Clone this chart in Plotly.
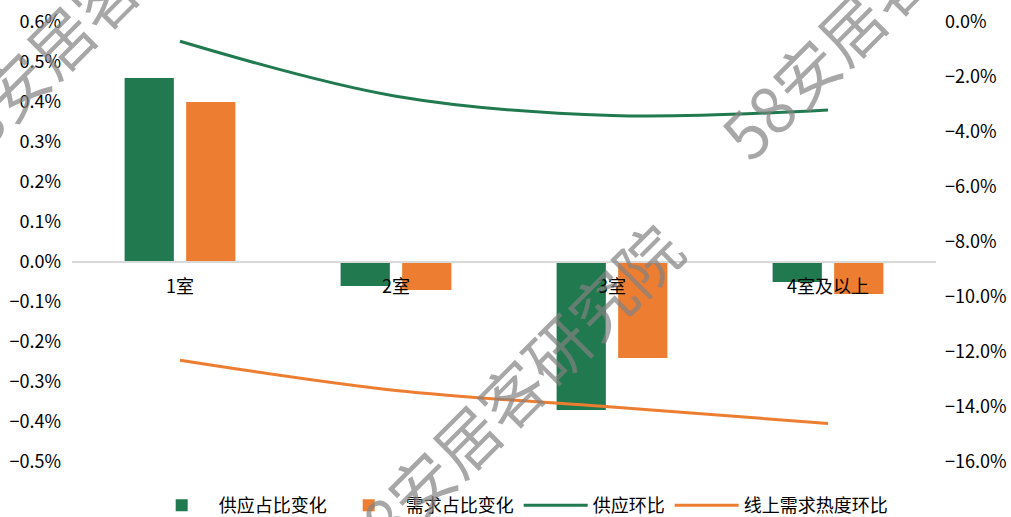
import plotly.graph_objects as go

categories = ["1室", "2室", "3室", "4室及以上"]
supply_share_change = [0.46, -0.06, -0.37, -0.05]
demand_share_change = [0.40, -0.07, -0.24, -0.08]
supply_mom = [-0.7, -2.7, -3.4, -3.2]
demand_heat_mom = [-12.3, -13.4, -14.0, -14.6]

GREEN = "#217A4F"
ORANGE = "#ED7D31"
FONT = "Noto Sans CJK SC"

fig = go.Figure()
fig.add_trace(go.Bar(x=categories, y=supply_share_change, name="供应占比变化",
                     marker=dict(color=GREEN, line=dict(width=0))))
fig.add_trace(go.Bar(x=categories, y=demand_share_change, name="需求占比变化",
                     marker=dict(color=ORANGE, line=dict(width=0))))
fig.add_trace(go.Scatter(x=categories, y=supply_mom, name="供应环比", yaxis="y2",
                         mode="lines", line=dict(color=GREEN, width=3, shape="spline", smoothing=1)))
fig.add_trace(go.Scatter(x=categories, y=demand_heat_mom, name="线上需求热度环比", yaxis="y2",
                         mode="lines", line=dict(color=ORANGE, width=3, shape="spline", smoothing=1)))

L, R, T, B = 72, 75, 22, 55
W, H = 1011, 517
pw, ph = W - L - R, H - T - B


def px(xp, yp):
    return (xp - L) / pw, (H - B - yp) / ph


wm = []
for (cx, cy) in [(507, 396), (892, -16), (101, -3)]:
    xx, yy = px(cx, cy)
    wm.append(dict(text="58安居客研究院", x=xx, y=yy, xref="paper", yref="paper",
                   xanchor="center", yanchor="middle", showarrow=False, textangle=-45,
                   font=dict(family=FONT, size=64, color="rgba(130,130,130,0.7)")))

fig.update_layout(
    width=W, height=H,
    margin=dict(l=L, r=R, t=T, b=B, pad=0, autoexpand=False),
    paper_bgcolor="white", plot_bgcolor="white",
    font=dict(family=FONT, size=18, color="#000000"),
    barmode="group", bargap=0.43, bargroupgap=0.2,
    showlegend=True,
    legend=dict(orientation="h", x=0.517, xanchor="center", y=-0.057,
                yanchor="top", font=dict(size=18), traceorder="normal", itemwidth=64),
    xaxis=dict(type="category", anchor="free", position=0.5 / 1.1,
               showline=True, linecolor="#D9D9D9", linewidth=1.5,
               showgrid=False, ticks="", ticklabelstandoff=9,
               tickfont=dict(size=18)),
    yaxis=dict(range=[-0.5, 0.6], dtick=0.1, tick0=0, tickformat=".1f", ticksuffix="%",
               showgrid=False, zeroline=False, showline=False, ticks="",
               ticklabelstandoff=10, tickfont=dict(size=18)),
    yaxis2=dict(range=[-16, 0], dtick=2, tick0=0, tickformat=".1f", ticksuffix="%",
                overlaying="y", side="right", showgrid=False, zeroline=False,
                showline=False, ticks="", ticklabelstandoff=8, tickfont=dict(size=18)),
    annotations=wm,
)

fig.write_html("out.html")
